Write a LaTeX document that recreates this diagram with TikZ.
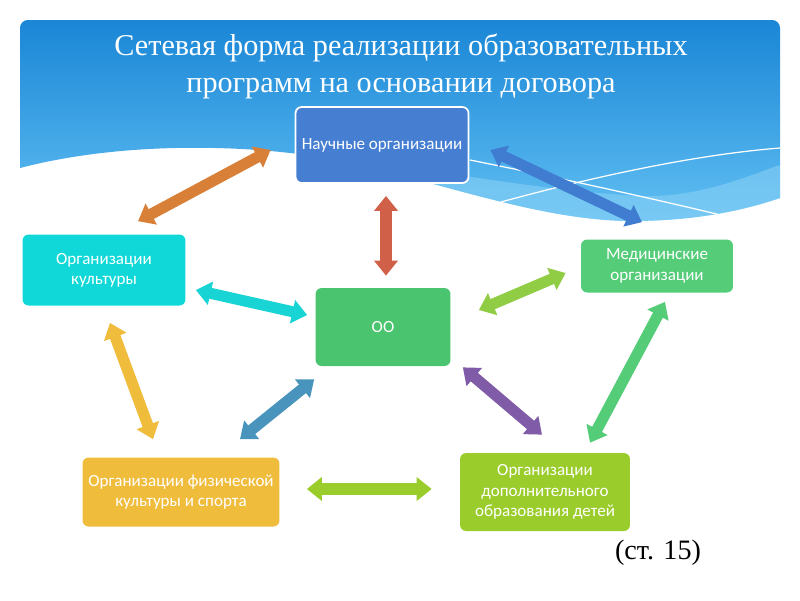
\documentclass[tikz,border=0pt]{standalone}
\usepackage{fontspec}
\setmainfont{Liberation Serif}
\newfontfamily\boxfont{Carlito}
\usepackage{tikz}
\usetikzlibrary{positioning, arrows.meta}

\definecolor{sciblue}{HTML}{467FD2}
\definecolor{cultcyan}{HTML}{10D8D8}
\definecolor{oogreen}{HTML}{4AC46E}
\definecolor{medgreen}{HTML}{54CC78}
\definecolor{sportyellow}{HTML}{F0BC3C}
\definecolor{dopgreen}{HTML}{9ACC2C}
\definecolor{arrorange}{HTML}{D88038}
\definecolor{arrblue}{HTML}{407CD0}
\definecolor{arrred}{HTML}{D06048}
\definecolor{arrcyan}{HTML}{18D4D4}
\definecolor{arrlime}{HTML}{90CC44}
\definecolor{arrteal}{HTML}{4894BC}
\definecolor{arrpurple}{HTML}{805CA8}
\definecolor{skytop}{HTML}{1A86D6}
\definecolor{skybottom}{HTML}{62C0F3}
\definecolor{skyband}{HTML}{8CD2F6}

\begin{document}
\begin{tikzpicture}[x=0.02cm, y=-0.02cm,
  org node/.style={rectangle, rounded corners=3.5pt, text=white, align=center,
    inner sep=2pt, font=\boxfont\fontsize{9.7}{11.5}\selectfont},
  link/.style={draw=#1, line width=6.3pt,
    arrows={Triangle[width=0.46cm,length=0.3cm]-Triangle[width=0.46cm,length=0.3cm]}}]

\useasboundingbox (0,0) rectangle (800,600);

% slide header
\begin{scope}
\clip[rounded corners=4.5pt] (20,168) -- (20,20) -- (780,20) [sharp corners] -- (780,198)
  .. controls (730,215) and (680,221) .. (630,221)
  .. controls (520,220) and (400,165) .. (290,153)
  .. controls (230,146) and (120,142) .. (20,168);
\shade[top color=skytop, bottom color=skybottom] (0,20) rectangle (800,225);
\fill[skyband, opacity=0.55] (270,152) .. controls (380,158) and (520,190) .. (640,196)
  .. controls (700,198) and (750,175) .. (780,165) -- (780,240) -- (270,240) -- cycle;
\draw[white, line width=0.7pt] (470,160) .. controls (560,178) and (650,198) .. (725,216);
\draw[white, line width=0.7pt] (490,205) .. controls (580,180) and (690,155) .. (780,148);
\end{scope}

\node[text=white, align=center, font=\fontsize{17.2}{21}\selectfont] (title) at (401,66)
  {Сетевая форма реализации образовательных\\программ на основании договора};

\node[org node, fill=sciblue, draw=white, line width=1pt, minimum width=3.46cm, minimum height=1.52cm] (sci) at (382,145) {Научные организации};
\node[org node, fill=cultcyan, minimum width=3.26cm, minimum height=1.42cm] (cult) at (104,270) {Организации\\культуры};
\node[org node, fill=oogreen, minimum width=2.70cm, minimum height=1.56cm] (oo) at (383,327) {ОО};
\node[org node, fill=medgreen, minimum width=3.04cm, minimum height=1.06cm] (med) at (657,266) {Медицинские\\организации};
\node[org node, fill=sportyellow, minimum width=3.94cm, minimum height=1.38cm] (sport) at (181,492) {Организации физической\\культуры и спорта};
\node[org node, fill=dopgreen, minimum width=3.40cm, minimum height=1.56cm] (dop) at (545,492) {Организации\\дополнительного\\образования детей};

\path
([shift={(34,-13)}]cult.north) edge[link=arrorange] ([shift={(-24,5)}]sci.west)
([shift={(21,5)}]sci.east) edge[link=arrblue] ([shift={(-15,-17)}]med.north)
([shift={(4,12)}]sci.south) edge[link=arrred] ([shift={(3,-12)}]oo.north)
([shift={(10,20)}]cult.east) edge[link=arrcyan] ([shift={(-8,-12)}]oo.west)
([shift={(28,-17)}]oo.east) edge[link=arrlime] ([shift={(-15,7)}]med.west)
([shift={(6,17)}]cult.south) edge[link=sportyellow] ([shift={(-28,-18)}]sport.north)
([shift={(59,-18)}]sport.north) edge[link=arrteal] ([shift={(-1,13)}]oo.south west)
([shift={(12,1)}]oo.south east) edge[link=arrpurple] ([shift={(-3,-18)}]dop.north)
([shift={(45,-10)}]dop.north) edge[link=medgreen] ([shift={(8,9)}]med.south)
([shift={(27,-3)}]sport.east) edge[link=dopgreen] ([shift={(-28,-3)}]dop.west)
;

\node[font=\fontsize{16}{19}\selectfont] (page) at (658,553) {(ст. 15)};

\end{tikzpicture}
\end{document}
